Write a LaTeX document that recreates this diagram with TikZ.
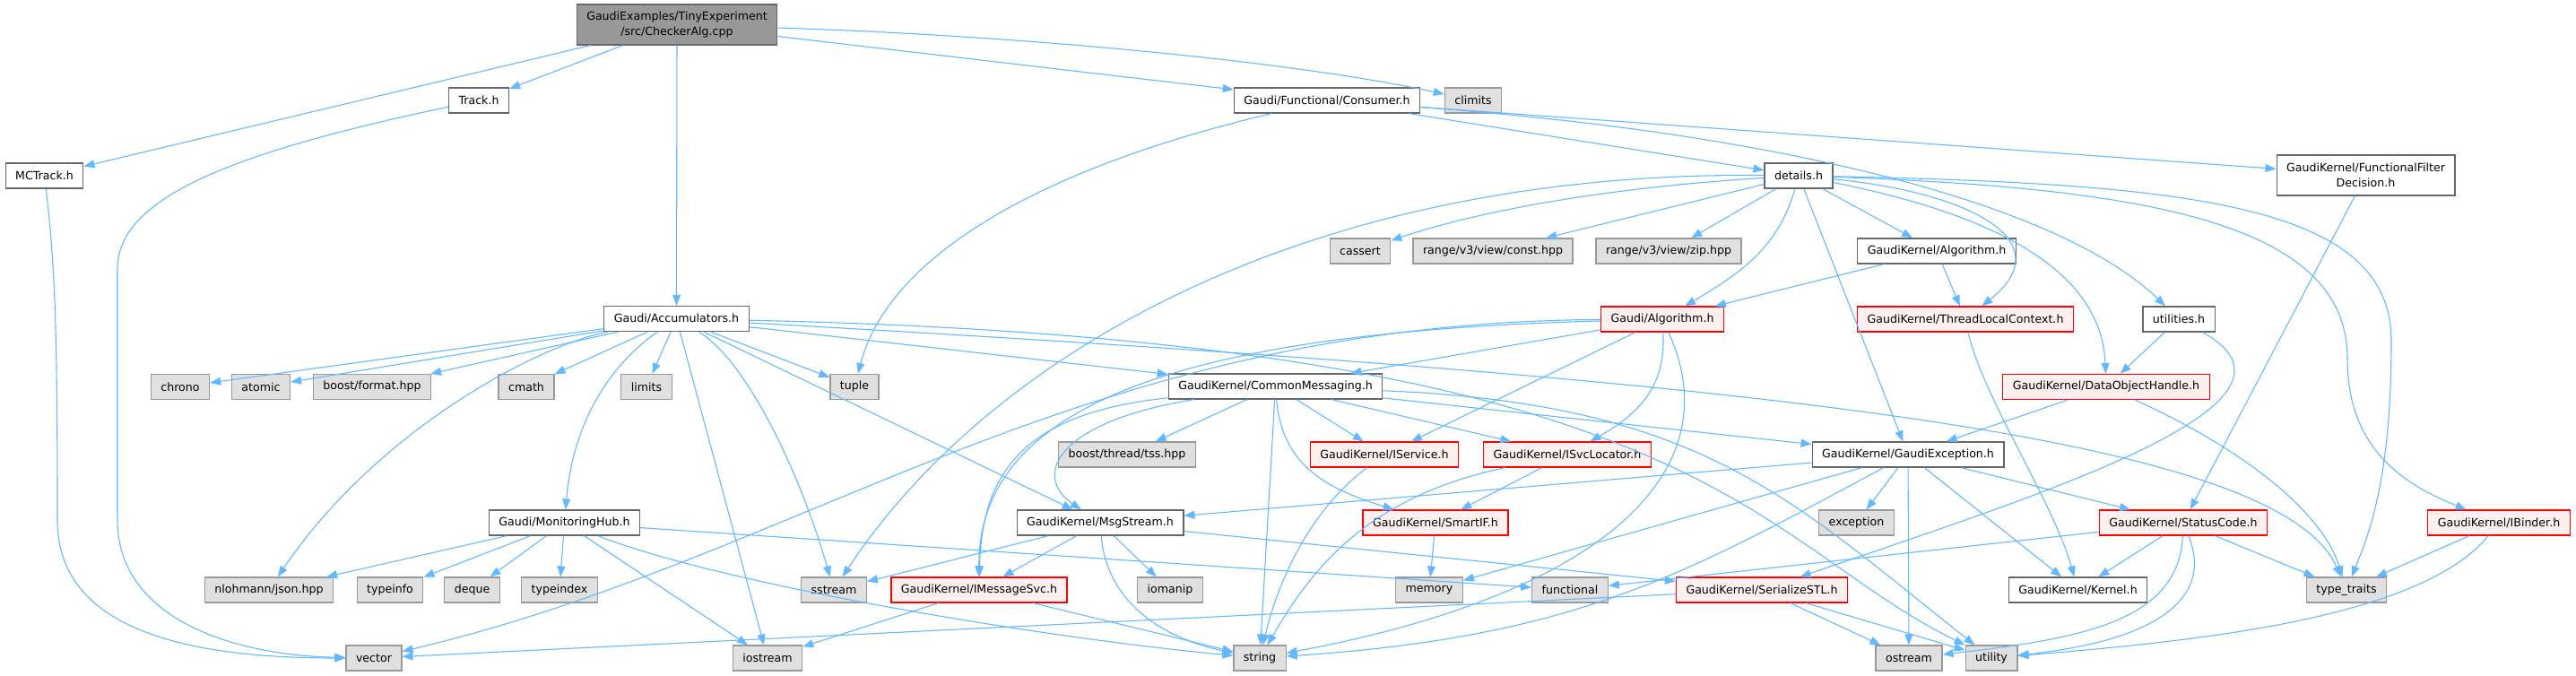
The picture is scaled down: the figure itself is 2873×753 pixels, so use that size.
\documentclass[tikz,border=0pt]{standalone}
\usepackage{fontspec}
\setmainfont{DejaVu Sans}
\usetikzlibrary{arrows.meta}
\definecolor{edgeblue}{HTML}{63B8FF}
\definecolor{boxgrey}{HTML}{E0E0E0}
\definecolor{linegrey}{HTML}{999999}
\definecolor{darkgrey}{HTML}{666666}
\definecolor{trunfill}{HTML}{FFF0F0}
\begin{document}
\begin{tikzpicture}[x=1pt, y=1pt]
\useasboundingbox (0,0) rectangle (2873,-753);

\tikzset{every node/.style={draw, rectangle, line width=1.2pt, minimum height=28pt, inner xsep=11pt, inner ysep=0pt, align=center, font=\fontsize{12.6}{16.5}\selectfont}}
\tikzset{docbox/.style={draw=darkgrey, fill=white}}
\tikzset{sysbox/.style={draw=linegrey, fill=boxgrey}}
\tikzset{trunbox/.style={draw=red, fill=trunfill}}
\tikzset{mainbox/.style={draw=darkgrey, fill=linegrey, minimum height=45pt}}
\node[mainbox] (checker) at (755,-27.5) {GaudiExamples/TinyExperiment\\/src/CheckerAlg.cpp};
\node[docbox] (track) at (534,-112) {Track.h};
\node[docbox] (mctrack) at (49.5,-196) {MCTrack.h};
\node[docbox] (consumer) at (1480,-112) {Gaudi/Functional/Consumer.h};
\node[sysbox] (climits) at (1643,-112) {climits};
\node[docbox] (details) at (2006,-196) {details.h};
\node[docbox, minimum height=45pt] (filterdec) at (2638.5,-195.5) {GaudiKernel/FunctionalFilter\\Decision.h};
\node[sysbox] (cassert) at (1517,-280) {cassert};
\node[sysbox] (viewconst) at (1665,-280) {range/v3/view/const.hpp};
\node[sysbox] (viewzip) at (1861,-280) {range/v3/view/zip.hpp};
\node[docbox] (kalgorithm) at (2160,-280) {GaudiKernel/Algorithm.h};
\node[docbox] (accum) at (754.5,-355.5) {Gaudi/Accumulators.h};
\node[trunbox] (galgorithm) at (1854,-356) {Gaudi/Algorithm.h};
\node[trunbox] (threadctx) at (2192,-356) {GaudiKernel/ThreadLocalContext.h};
\node[docbox] (utilities) at (2430,-356) {utilities.h};
\node[sysbox] (chrono) at (201,-431.5) {chrono};
\node[sysbox] (atomic) at (291,-431.5) {atomic};
\node[sysbox] (bformat) at (415,-431.5) {boost/format.hpp};
\node[sysbox] (cmath) at (587,-431.5) {cmath};
\node[sysbox] (limits) at (721,-431.5) {limits};
\node[sysbox] (tuple) at (953,-431.5) {tuple};
\node[docbox] (commsg) at (1422.5,-431) {GaudiKernel/CommonMessaging.h};
\node[trunbox] (dohandle) at (2349,-431.5) {GaudiKernel/DataObjectHandle.h};
\node[sysbox] (tss) at (1257,-507) {boost/thread/tss.hpp};
\node[trunbox] (iservice) at (1544,-507) {GaudiKernel/IService.h};
\node[trunbox] (isvcloc) at (1748,-507) {GaudiKernel/ISvcLocator.h};
\node[docbox] (gexcept) at (2128,-507) {GaudiKernel/GaudiException.h};
\node[docbox] (monhub) at (629.5,-583) {Gaudi/MonitoringHub.h};
\node[docbox] (msgstream) at (1227,-583) {GaudiKernel/MsgStream.h};
\node[trunbox] (smartif) at (1601,-583) {GaudiKernel/SmartIF.h};
\node[sysbox] (exception) at (2070.5,-583) {exception};
\node[trunbox] (statuscode) at (2435,-583) {GaudiKernel/StatusCode.h};
\node[trunbox] (ibinder) at (2787,-583) {GaudiKernel/IBinder.h};
\node[sysbox] (json) at (300,-658) {nlohmann/json.hpp};
\node[sysbox] (typeinfo) at (435,-658) {typeinfo};
\node[sysbox] (deque) at (526.5,-658) {deque};
\node[sysbox] (typeindex) at (624,-658) {typeindex};
\node[sysbox] (sstream) at (930,-658) {sstream};
\node[trunbox] (imsgsvc) at (1092,-658) {GaudiKernel/IMessageSvc.h};
\node[sysbox] (iomanip) at (1305,-658) {iomanip};
\node[sysbox] (memory) at (1594,-658) {memory};
\node[sysbox] (functional) at (1751,-658) {functional};
\node[trunbox] (serialstl) at (1965,-658) {GaudiKernel/SerializeSTL.h};
\node[docbox] (kernel) at (2317.5,-658) {GaudiKernel/Kernel.h};
\node[sysbox] (typetraits) at (2617,-658) {type\_traits};
\node[sysbox] (vector) at (417,-734) {vector};
\node[sysbox] (iostream) at (856,-734) {iostream};
\node[sysbox] (string) at (1405,-734) {string};
\node[sysbox] (ostream) at (2129,-734) {ostream};
\node[sysbox] (utility) at (2221,-734) {utility};

\tikzset{every node/.style={}}
\tikzset{inclstyle/.style={-{Triangle[length=12pt,width=9pt]}, draw=edgeblue, line width=1.1pt}}
\path (checker) edge [inclstyle] (mctrack);
\path (checker) edge [inclstyle] (track);
\path (checker) edge [inclstyle] (accum);
\path (checker) edge [inclstyle] (consumer);
\draw [inclstyle] (checker) .. controls (1150,-40) and (1450,-70) .. (climits);
\draw [inclstyle] (mctrack) .. controls (62,-300) and (64,-380) .. (64,-580) .. controls (64,-690) and (180,-734) .. (vector);
\draw [inclstyle] (track) .. controls (260,-170) and (131,-220) .. (131,-300) -- (131,-580) .. controls (131,-690) and (260,-731) .. (vector);

\path (accum) edge [inclstyle] (chrono);
\path (accum) edge [inclstyle] (atomic);
\path (accum) edge [inclstyle] (bformat);
\path (accum) edge [inclstyle] (cmath);
\path (accum) edge [inclstyle] (limits);
\path (accum) edge [inclstyle] (tuple);
\path (accum) edge [inclstyle] (iostream);
\path (accum) edge [inclstyle] (msgstream);
\path (accum) edge [inclstyle] (commsg);
\draw [inclstyle] (accum) .. controls (830,-400) and (890,-520) .. (sstream);
\draw [inclstyle] (accum) .. controls (600,-385) and (420,-480) .. (json);
\draw [inclstyle] (accum) .. controls (690,-400) and (640,-460) .. (monhub);
\draw [inclstyle] (accum) .. controls (1900,-420) and (2540,-480) .. (typetraits);
\draw [inclstyle] (accum) .. controls (1900,-380) and (1950,-600) .. (utility);

\path (consumer) edge [inclstyle] (details);
\path (consumer) edge [inclstyle] (filterdec);
\draw [inclstyle] (consumer) .. controls (1150,-190) and (990,-290) .. (tuple);
\draw [inclstyle] (consumer) .. controls (2000,-150) and (2300,-230) .. (utilities);

\path (details) edge [inclstyle] (viewconst);
\path (details) edge [inclstyle] (viewzip);
\path (details) edge [inclstyle] (kalgorithm);
\path (details) edge [inclstyle] (gexcept);
\draw [inclstyle] (details) .. controls (1750,-212) and (1620,-245) .. (cassert);
\draw [inclstyle] (details) .. controls (1450,-190) and (1100,-400) .. (sstream);
\draw [inclstyle] (details) .. controls (1985,-270) and (1950,-300) .. (galgorithm);
\draw [inclstyle] (details) .. controls (2200,-215) and (2300,-270) .. (threadctx);
\draw [inclstyle] (details) .. controls (2280,-250) and (2345,-330) .. (dohandle);
\draw [inclstyle] (details) .. controls (2400,-210) and (2618,-250) .. (2618,-400) .. controls (2618,-500) and (2680,-540) .. (ibinder);
\draw [inclstyle] (details) .. controls (2450,-205) and (2667,-230) .. (2667,-380) .. controls (2667,-540) and (2640,-600) .. (typetraits);

\path (kalgorithm) edge [inclstyle] (galgorithm);
\path (kalgorithm) edge [inclstyle] (threadctx);
\path (utilities) edge [inclstyle] (dohandle);
\draw [inclstyle] (utilities) .. controls (2600,-450) and (2280,-550) .. (serialstl);
\path (filterdec) edge [inclstyle] (statuscode);
\path (dohandle) edge [inclstyle] (gexcept);
\draw [inclstyle] (dohandle) .. controls (2500,-500) and (2590,-570) .. (typetraits);
\draw [inclstyle] (threadctx) .. controls (2210,-440) and (2290,-560) .. (kernel);

\path (galgorithm) edge [inclstyle] (commsg);
\path (galgorithm) edge [inclstyle] (iservice);
\draw [inclstyle] (galgorithm) .. controls (1858,-430) and (1830,-460) .. (isvcloc);
\draw [inclstyle] (galgorithm) .. controls (1930,-520) and (1800,-660) .. (string);
\draw [inclstyle] (galgorithm) .. controls (1200,-360) and (900,-620) .. (vector);
\draw [inclstyle] (galgorithm) .. controls (1350,-370) and (1090,-440) .. (imsgsvc);

\path (commsg) edge [inclstyle] (tss);
\path (commsg) edge [inclstyle] (string);
\path (commsg) edge [inclstyle] (iservice);
\path (commsg) edge [inclstyle] (isvcloc);
\path (commsg) edge [inclstyle] (gexcept);
\draw [inclstyle] (commsg) .. controls (1180,-470) and (1150,-530) .. (msgstream);
\draw [inclstyle] (commsg) .. controls (1150,-460) and (1095,-520) .. (imsgsvc);
\draw [inclstyle] (commsg) .. controls (1430,-520) and (1480,-545) .. (smartif);
\draw [inclstyle] (commsg) .. controls (1900,-450) and (2000,-560) .. (utility);

\draw [inclstyle] (iservice) .. controls (1460,-570) and (1425,-650) .. (string);
\path (isvcloc) edge [inclstyle] (smartif);
\draw [inclstyle] (isvcloc) .. controls (1520,-555) and (1460,-640) .. (string);
\path (smartif) edge [inclstyle] (memory);

\path (gexcept) edge [inclstyle] (msgstream);
\path (gexcept) edge [inclstyle] (exception);
\path (gexcept) edge [inclstyle] (statuscode);
\path (gexcept) edge [inclstyle] (kernel);
\path (gexcept) edge [inclstyle] (ostream);
\path (gexcept) edge [inclstyle] (memory);
\draw [inclstyle] (gexcept) .. controls (1880,-640) and (1760,-710) .. (string);

\path (statuscode) edge [inclstyle] (functional);
\path (statuscode) edge [inclstyle] (kernel);
\path (statuscode) edge [inclstyle] (typetraits);
\draw [inclstyle] (statuscode) .. controls (2430,-690) and (2330,-712) .. (ostream);
\draw [inclstyle] (statuscode) .. controls (2470,-670) and (2400,-715) .. (utility);
\path (ibinder) edge [inclstyle] (typetraits);
\draw [inclstyle] (ibinder) .. controls (2700,-690) and (2450,-715) .. (utility);

\path (monhub) edge [inclstyle] (json);
\path (monhub) edge [inclstyle] (typeinfo);
\path (monhub) edge [inclstyle] (deque);
\path (monhub) edge [inclstyle] (typeindex);
\path (monhub) edge [inclstyle] (iostream);
\path (monhub) edge [inclstyle] (functional);
\draw [inclstyle] (monhub) .. controls (800,-650) and (1150,-710) .. (string);

\path (msgstream) edge [inclstyle] (sstream);
\path (msgstream) edge [inclstyle] (imsgsvc);
\path (msgstream) edge [inclstyle] (iomanip);
\path (msgstream) edge [inclstyle] (serialstl);
\draw [inclstyle] (msgstream) .. controls (1235,-680) and (1310,-715) .. (string);
\path (imsgsvc) edge [inclstyle] (iostream);
\path (imsgsvc) edge [inclstyle] (string);

\path (serialstl) edge [inclstyle] (vector);
\path (serialstl) edge [inclstyle] (ostream);
\path (serialstl) edge [inclstyle] (utility);
\end{tikzpicture}
\end{document}
